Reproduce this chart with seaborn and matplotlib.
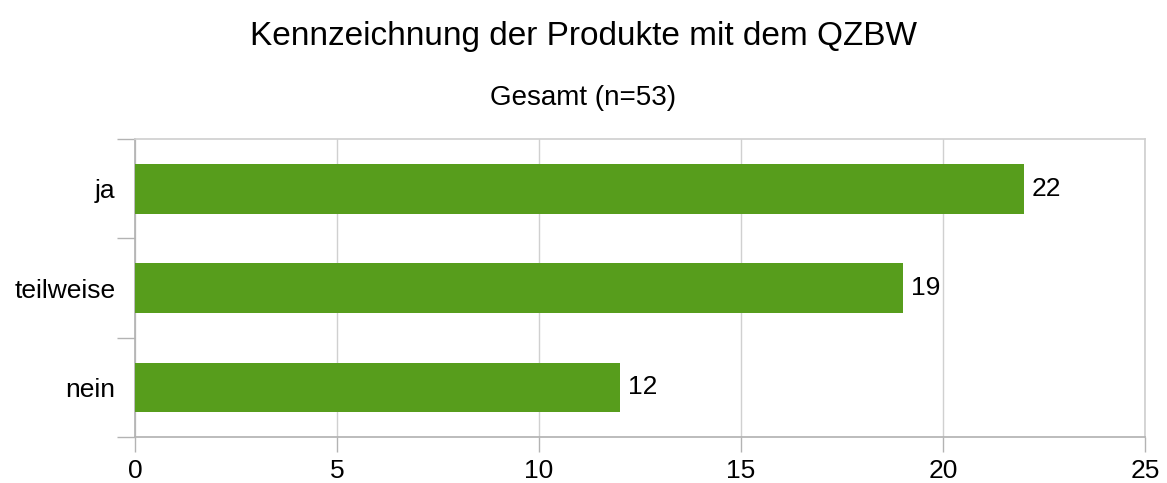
import matplotlib
matplotlib.use("Agg")
import matplotlib.pyplot as plt
import seaborn as sns
import pandas as pd
import numpy as np

# data
categories = ["ja", "teilweise", "nein"]
counts = [22, 19, 12]
x_ticks = [0, 5, 10, 15, 20, 25]

sns.set_theme(style="white")
plt.rcParams["font.family"] = ["Liberation Sans", "DejaVu Sans"]

df = pd.DataFrame({"Antwort": categories, "Anzahl": counts})

fig = plt.figure(figsize=(11.67, 4.83), dpi=100)
ax = fig.add_axes([0.1157, 0.0952, 0.9812 - 0.1157, 0.7122 - 0.0952])

sns.barplot(data=df, y="Antwort", x="Anzahl", order=categories, color="#579d1c",
            saturation=1, width=0.5, linewidth=0, ax=ax, zorder=3)

ax.set_xlim(0, 25)
ax.set_ylim(len(categories) - 0.5, -0.5)
ax.set_xticks(x_ticks)
ax.set_xticklabels([str(t) for t in x_ticks], fontsize=19, color="black")
ax.set_yticks(np.arange(-0.5, len(categories)), minor=True)
ax.tick_params(axis="y", which="major", left=True, length=0, labelsize=19,
               labelcolor="black", pad=14)
ax.tick_params(axis="y", which="minor", left=True, length=13, color="#b3b3b3", width=1)
ax.tick_params(axis="x", which="major", bottom=True, length=11, color="#b3b3b3",
               width=1, pad=5)
ax.grid(axis="x", color="#d0d0d0", linewidth=1, zorder=0)
ax.set_xlabel("")
ax.set_ylabel("")

for side in ["top", "right"]:
    ax.spines[side].set_color("#d0d0d0")
for side in ["left", "bottom"]:
    ax.spines[side].set_color("#b3b3b3")

# value labels at the end of each bar
for i, v in enumerate(counts):
    ax.text(v + 0.2, i, str(v), va="center", ha="left", fontsize=19, color="black")

fig.text(0.5, 0.925, "Kennzeichnung der Produkte mit dem QZBW", ha="center", va="center",
         fontsize=24, color="black")
fig.text(0.5, 0.797, "Gesamt (n=53)", ha="center", va="center", fontsize=20, color="black")

fig.savefig("out.png", dpi=100)
